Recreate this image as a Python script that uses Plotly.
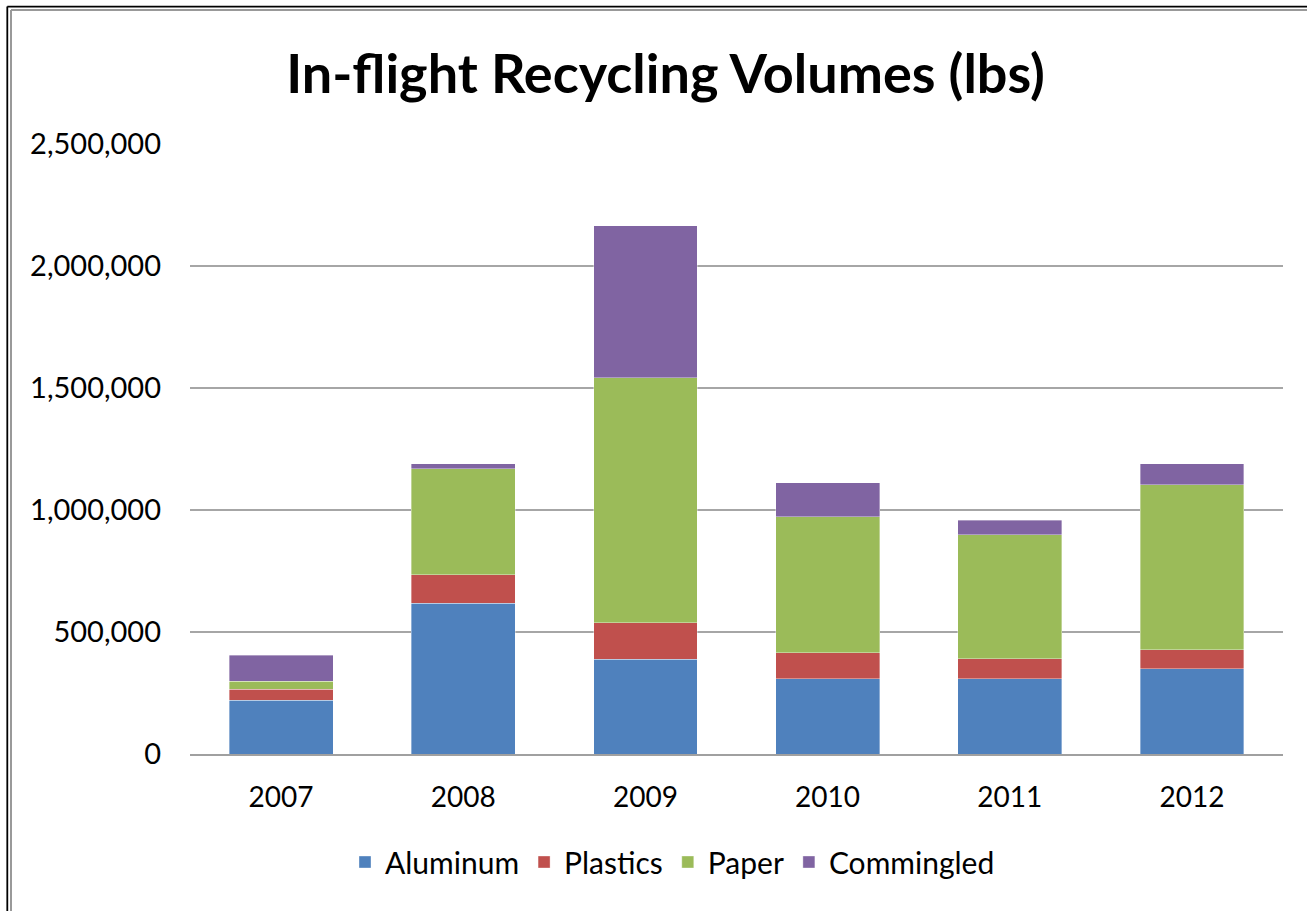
import plotly.graph_objects as go

years = ["2007", "2008", "2009", "2010", "2011", "2012"]
aluminum = [221000, 617000, 388000, 309000, 309000, 349000]
plastics = [45000, 118000, 150000, 107000, 81000, 79000]
paper = [33000, 434000, 1005000, 556000, 509000, 676000]
commingled = [106000, 21000, 621000, 139000, 60000, 85000]

series_names = ["Aluminum", "Plastics", "Paper", "Commingled"]
series_values = [aluminum, plastics, paper, commingled]
colors = ["#4F81BD", "#C0504D", "#9BBB59", "#8064A2"]

y_ticks = [0, 500000, 1000000, 1500000, 2000000, 2500000]
y_tick_labels = ["0", "500,000", "1,000,000", "1,500,000", "2,000,000", "2,500,000"]

W, H = 1307, 911
L, R, T, B = 190, 1283, 144, 754.5

fig = go.Figure()
for name, vals, col in zip(series_names, series_values, colors):
    fig.add_trace(go.Bar(
        x=years, y=vals, name=name,
        marker=dict(color=col, line=dict(width=0.6, color="rgba(255,255,255,0.6)")),
    ))

font_family = "Lato, 'Open Sans', sans-serif"

fig.update_layout(
    width=W, height=H,
    autosize=False,
    barmode="stack",
    bargap=0.43,
    paper_bgcolor="white",
    plot_bgcolor="white",
    margin=dict(l=L, r=W - R, t=T, b=H - B, pad=0),
    font=dict(family=font_family, color="#000000"),
    title=dict(
        text="<b>In-flight Recycling Volumes (lbs)</b>",
        font=dict(size=54, family=font_family, color="#000000"),
        x=665.5 / W, xanchor="center", xref="container",
        y=1 - 74 / H, yanchor="middle", yref="container",
    ),
    xaxis=dict(
        showgrid=False,
        showline=True, linecolor="#A0A0A0", linewidth=1.5,
        ticks="", tickfont=dict(size=28, color="#000000"),
        ticklabelstandoff=18,
    ),
    yaxis=dict(
        range=[0, 2500000],
        tickvals=y_ticks, ticktext=y_tick_labels,
        showgrid=True, gridcolor="#A6A6A6", gridwidth=1.5,
        zeroline=False,
        showline=False,
        ticks="", tickfont=dict(size=29, color="#000000"),
        ticklabelstandoff=28,
    ),
    legend=dict(
        orientation="h",
        x=672.5 / W, xanchor="center", xref="container",
        y=1 - 862 / H, yanchor="middle", yref="container",
        font=dict(size=30, color="#000000"),
        itemwidth=30,
        traceorder="normal",
    ),
    showlegend=True,
)

# outer frame (double border at top and left, cropped at right/bottom)
fig.add_shape(type="line", xref="paper", yref="paper",
              x0=(7.3 - L) / (R - L), x1=(7.3 - L) / (R - L),
              y0=(B - 6.5) / (B - T), y1=(B - 915) / (B - T),
              line=dict(color="#000000", width=1.8))
fig.add_shape(type="line", xref="paper", yref="paper",
              x0=(7.3 - L) / (R - L), x1=(1310 - L) / (R - L),
              y0=(B - 6.5) / (B - T), y1=(B - 6.5) / (B - T),
              line=dict(color="#000000", width=1.8))
fig.add_shape(type="line", xref="paper", yref="paper",
              x0=(11 - L) / (R - L), x1=(11 - L) / (R - L),
              y0=(B - 10) / (B - T), y1=(B - 915) / (B - T),
              line=dict(color="#999999", width=2))
fig.add_shape(type="line", xref="paper", yref="paper",
              x0=(11 - L) / (R - L), x1=(1310 - L) / (R - L),
              y0=(B - 10) / (B - T), y1=(B - 10) / (B - T),
              line=dict(color="#999999", width=2))

fig.write_html(
    "out.html",
    config={"displayModeBar": False},
    post_script="document.body.style.margin='0px';document.body.style.overflow='hidden';",
)
